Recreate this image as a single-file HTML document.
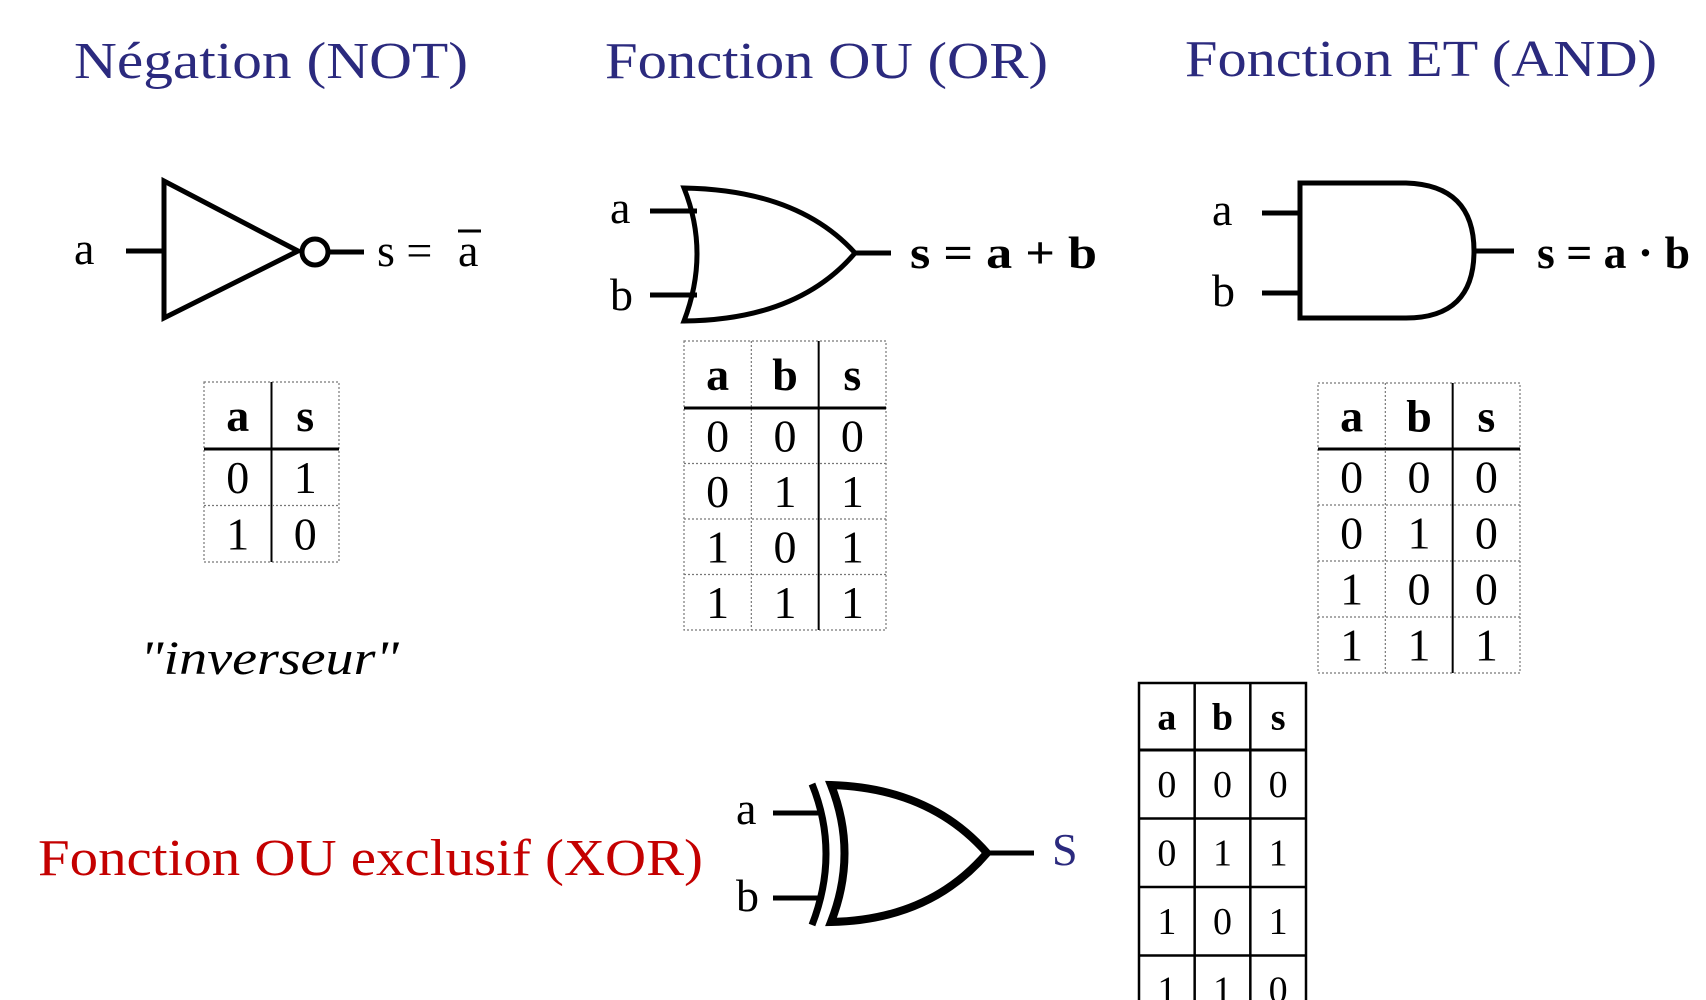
<!DOCTYPE html>
<html><head><meta charset="utf-8"><style>
html,body{margin:0;padding:0;background:#fff;}
svg{display:block;}
text{font-family:"Liberation Serif",serif;}
</style></head><body>
<svg width="1706" height="1000" viewBox="0 0 1706 1000">
<g fill="#2b2a7e" font-size="52">
<text x="74" y="78" textLength="394" lengthAdjust="spacingAndGlyphs">Négation  (NOT)</text>
<text x="605" y="78" textLength="443" lengthAdjust="spacingAndGlyphs">Fonction OU  (OR)</text>
<text x="1185" y="76" textLength="472" lengthAdjust="spacingAndGlyphs">Fonction ET  (AND)</text>
</g>

<!-- NOT gate -->
<g stroke="#000" stroke-width="5" fill="none">
<line x1="126" y1="251" x2="164" y2="251"/>
<polygon points="164,181 164,318 298,251" stroke-linejoin="miter"/>
<circle cx="315" cy="252" r="13"/>
<line x1="328" y1="252" x2="364" y2="252"/>
</g>
<text x="74" y="264" font-size="46">a</text>
<text x="377" y="266" font-size="46">s =</text>
<text x="458" y="266" font-size="46">a</text>
<line x1="458" y1="231" x2="481" y2="231" stroke="#000" stroke-width="3"/>

<!-- OR gate -->
<g stroke="#000" stroke-width="5" fill="none">
<line x1="650" y1="211" x2="697" y2="211"/>
<line x1="650" y1="295" x2="697" y2="295"/>
<path d="M684,188 Q710,253 684,321 Q798,320 855,253 Q798,190 684,188 Z"/>
<line x1="855" y1="253" x2="891" y2="253"/>
</g>
<text x="610" y="223" font-size="46">a</text>
<text x="610" y="310" font-size="46">b</text>
<text x="910" y="268" font-size="46" font-weight="bold" textLength="187" lengthAdjust="spacingAndGlyphs">s = a + b</text>

<!-- AND gate -->
<g stroke="#000" stroke-width="5" fill="none">
<line x1="1262" y1="213" x2="1300" y2="213"/>
<line x1="1262" y1="293" x2="1300" y2="293"/>
<path d="M1300,183 L1406,183 Q1474,185 1474,251 Q1474,318 1406,318 L1300,318 Z"/>
<line x1="1474" y1="251" x2="1514" y2="251"/>
</g>
<text x="1212" y="225" font-size="46">a</text>
<text x="1212" y="306" font-size="46">b</text>
<text x="1537" y="268" font-size="46" font-weight="bold" textLength="153" lengthAdjust="spacingAndGlyphs">s = a · b</text>

<text x="140" y="674" font-size="48" font-style="italic" textLength="259" lengthAdjust="spacingAndGlyphs">"inverseur"</text>

<!-- XOR -->
<text x="38" y="875" font-size="52" fill="#c40000" textLength="665" lengthAdjust="spacingAndGlyphs">Fonction OU exclusif (XOR)</text>
<g stroke="#000" fill="none">
<line x1="773" y1="813" x2="818" y2="813" stroke-width="5"/>
<line x1="773" y1="898" x2="818" y2="898" stroke-width="5"/>
<path d="M812,784 Q840,853 812,925" stroke-width="7"/>
<path d="M831,785 Q858,853 831,922 Q930,920 987,853 Q930,788 831,785 Z" stroke-width="8"/>
<line x1="987" y1="853" x2="1034" y2="853" stroke-width="5"/>
</g>
<text x="736" y="824" font-size="46">a</text>
<text x="736" y="911" font-size="46">b</text>
<text x="1052" y="865" font-size="46" fill="#2b2a7e">S</text>

<g id="tables"></g>
</svg>
<script>
const notRows = [["a","s"],["0","1"],["1","0"]];
const orRows = [["a","b","s"],["0","0","0"],["0","1","1"],["1","0","1"],["1","1","1"]];
const andRows = [["a","b","s"],["0","0","0"],["0","1","0"],["1","0","0"],["1","1","1"]];
const xorRows = [["a","b","s"],["0","0","0"],["0","1","1"],["1","0","1"],["1","1","0"]];
const NS = "http://www.w3.org/2000/svg";
const root = document.getElementById("tables");
function mk(tag, attrs, parent){
  const e = document.createElementNS(NS, tag);
  for (const k in attrs) e.setAttribute(k, attrs[k]);
  parent.appendChild(e);
  return e;
}
function table(name, rows, x, y, w, headH, rowH, fs, solid){
  const g = mk("g", {}, root);
  
  
  const nc = rows[0].length, cw = w / nc;
  const H = headH + rowH * (rows.length - 1);
  const thin = solid ? {stroke:"#000","stroke-width":2.5} : {stroke:"#777","stroke-width":1.2,"stroke-dasharray":"2,2"};
  mk("rect", Object.assign({x:x,y:y,width:w,height:H,fill:"none"}, thin), g);
  for (let c = 1; c < nc; c++) {
    const isLast = c === nc - 1 && !solid;
    mk("line", Object.assign({x1:x+c*cw,y1:y,x2:x+c*cw,y2:y+H,fill:"none"}, isLast ? {stroke:"#000","stroke-width":2} : thin), g);
  }
  for (let r = 1; r < rows.length; r++) {
    const yy = y + headH + (r-1)*rowH;
    mk("line", Object.assign({x1:x,y1:yy,x2:x+w,y2:yy}, r===1 ? {stroke:"#000","stroke-width":3} : thin), g);
  }
  rows.forEach((row, r) => {
    const top = r===0 ? y : y + headH + (r-1)*rowH;
    const h = r===0 ? headH : rowH;
    row.forEach((v, c) => {
      const t = mk("text", {x:x+c*cw+cw/2, y:top+h/2+fs*0.34, "text-anchor":"middle", "font-size":fs, "font-weight": r===0 ? "bold":"normal"}, g);
      t.textContent = v;
      
      
    });
  });
}
table("not-truth-table", notRows, 204, 382, 135, 67, 56.5, 46, false);
table("or-truth-table", orRows, 684, 341, 202, 67, 55.5, 46, false);
table("and-truth-table", andRows, 1318, 383, 202, 66, 56, 46, false);
table("xor-truth-table", xorRows, 1139, 683, 167, 67, 68.5, 38, true);
</script>
</body></html>
